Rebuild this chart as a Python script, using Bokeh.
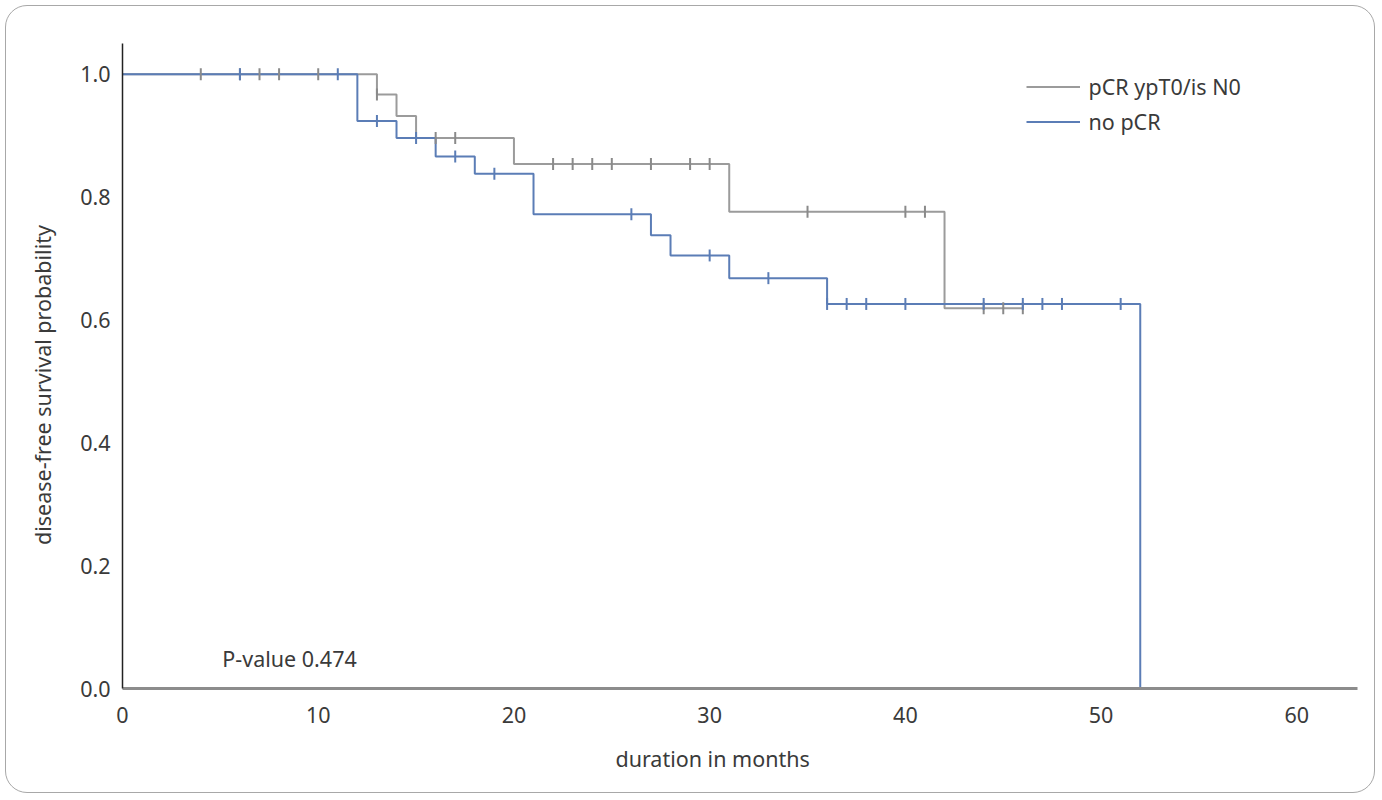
import numpy as np
from bokeh.plotting import figure
from bokeh.layouts import column
from bokeh.models import Range1d, FixedTicker, PrintfTickFormatter, Legend, LegendItem, Label
from bokeh.embed import file_html
from bokeh.resources import INLINE

# ---- data ----
x_ticks = [0, 10, 20, 30, 40, 50, 60]
y_ticks = [0.0, 0.2, 0.4, 0.6, 0.8, 1.0]

pcr_label = "pCR ypT0/is N0"
pcr_times = [0, 13, 14, 15, 20, 31, 42, 46]
pcr_surv = [1.0, 0.967, 0.932, 0.896, 0.854, 0.776, 0.619, 0.619]
pcr_cens_t = [4, 6, 7, 8, 10, 13, 16, 17, 22, 23, 24, 25, 27, 29, 30, 35, 40, 41, 44, 45, 46]
pcr_cens_s = [1.0, 1.0, 1.0, 1.0, 1.0, 0.967, 0.896, 0.896, 0.854, 0.854, 0.854, 0.854,
              0.854, 0.854, 0.854, 0.776, 0.776, 0.776, 0.619, 0.619, 0.619]

nopcr_label = "no pCR"
nopcr_times = [0, 12, 14, 16, 18, 21, 27, 28, 31, 36, 52]
nopcr_surv = [1.0, 0.924, 0.896, 0.866, 0.838, 0.772, 0.738, 0.705, 0.668, 0.626, 0.0]
nopcr_cens_t = [6, 11, 13, 15, 17, 19, 26, 30, 33, 36, 37, 38, 40, 44, 46, 47, 48, 51]
nopcr_cens_s = [1.0, 1.0, 0.924, 0.896, 0.866, 0.838, 0.772, 0.705, 0.668,
                0.626, 0.626, 0.626, 0.626, 0.626, 0.626, 0.626, 0.626, 0.626]

p_value_text = "P-value 0.474"
x_title = "duration in months"
y_title = "disease-free survival probability"

# ---- style ----
FONT = "Noto Sans"
FS = "21.5px"
TXT = "#3a3a3a"
GRAY = "#9b9b9b"
GRAY_MARK = "#8a8a8a"
BLUE = "#5b7db6"

# figure sits inside a bordered, rounded wrapper; its top-left is at page (6, 6)
OFF = 6
W, H = 1368, 786
p = figure(width=W, height=H, output_backend="svg", toolbar_location=None,
           x_range=Range1d(0, 63.1), y_range=Range1d(0, 1.05),
           min_border_left=122 - OFF, min_border_right=W - (1357 - OFF),
           min_border_top=43 - OFF, min_border_bottom=H - (688 - OFF))
p.outline_line_color = None
p.xgrid.visible = False
p.ygrid.visible = False
p.background_fill_color = None
p.border_fill_color = None

xa = p.xaxis[0]
xa.ticker = FixedTicker(ticks=x_ticks)
xa.major_tick_out = 0
xa.major_tick_in = 0
xa.minor_tick_out = 0
xa.minor_tick_in = 0
xa.axis_line_color = "#8c8c8c"
xa.axis_line_width = 3
xa.major_label_standoff = 18
xa.major_label_text_font = FONT
xa.major_label_text_font_size = FS
xa.major_label_text_color = TXT

ya = p.yaxis[0]
ya.ticker = FixedTicker(ticks=y_ticks)
ya.formatter = PrintfTickFormatter(format="%.1f")
ya.major_tick_out = 0
ya.major_tick_in = 0
ya.minor_tick_out = 0
ya.minor_tick_in = 0
ya.axis_line_color = "#222222"
ya.axis_line_width = 1.5
ya.major_label_standoff = 12
ya.major_label_text_font = FONT
ya.major_label_text_font_size = FS
ya.major_label_text_color = TXT

# ---- axis titles, in the side panels, positioned like the reference ----
p.add_layout(Label(x=30.15, y=-0.1142, text=x_title, text_font=FONT,
                   text_font_size=FS, text_color=TXT, text_align="center",
                   text_baseline="middle"), "below")
p.add_layout(Label(x=-4.09, y=0.494, text=y_title, text_font=FONT,
                   text_font_size=FS, text_color=TXT, text_align="center",
                   text_baseline="middle", angle=np.pi / 2), "left")

# ---- curves ----
r_pcr = p.step(pcr_times, pcr_surv, mode="after", line_color=GRAY, line_width=2)
r_no = p.step(nopcr_times, nopcr_surv, mode="after", line_color=BLUE, line_width=2)

p.scatter(pcr_cens_t, pcr_cens_s, marker="dash", angle=np.pi / 2, size=12,
          line_color=GRAY_MARK, line_width=2)
p.scatter(nopcr_cens_t, nopcr_cens_s, marker="dash", angle=np.pi / 2, size=12,
          line_color=BLUE, line_width=2)

# ---- legend ----
legend = Legend(items=[LegendItem(label=pcr_label, renderers=[r_pcr]),
                       LegendItem(label=nopcr_label, renderers=[r_no])],
                location=(904, 552), orientation="vertical",
                glyph_width=54, glyph_height=29, label_height=29, label_standoff=9,
                spacing=6, padding=0, margin=0,
                border_line_color=None, background_fill_alpha=0,
                label_text_font=FONT, label_text_font_size=FS, label_text_color=TXT)
p.add_layout(legend)

# ---- p-value ----
p.add_layout(Label(x=5.1, y=0.049, text=p_value_text, text_font=FONT, text_font_size=FS,
                   text_color=TXT, text_baseline="middle", text_align="left"))

layout = column(p, styles={"border": "1.5px solid #a8a8a8", "border-radius": "22px",
                           "margin": "4.5px", "background-color": "white"})

open("out.html", "w").write(file_html(layout, INLINE))
